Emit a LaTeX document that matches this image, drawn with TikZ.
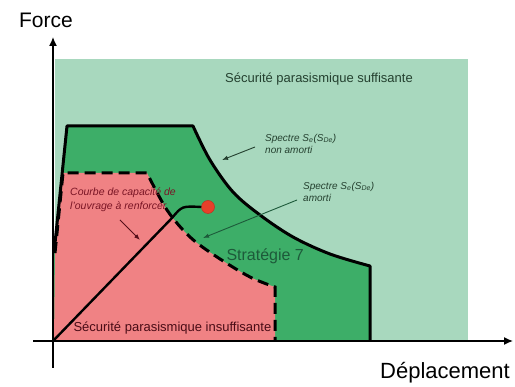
\documentclass[tikz,border=0pt]{standalone}
\usepackage{fontspec}
\setmainfont{Liberation Sans}
\usetikzlibrary{arrows.meta}
\definecolor{safegreen}{HTML}{A8D8BE}
\definecolor{stratgreen}{HTML}{3DAE68}
\definecolor{unsafered}{HTML}{F08284}
\definecolor{pointred}{HTML}{E8402A}
\definecolor{labelgreen}{HTML}{1D5A3A}
\definecolor{labeldark}{HTML}{24402F}
\definecolor{labelred}{HTML}{7A1525}

\begin{document}
\begin{tikzpicture}[x=1pt, y=-1pt,
		thickline/.style={line width=3pt, line join=round},
		dashline/.style={line width=3pt, dash pattern=on 11pt off 6pt},
		axis/.style={line width=1.4pt, -{Latex[length=9pt, width=8pt]}},
		pointer/.style={line width=0.9pt, -{Latex[length=6pt, width=4.5pt]}},
		label/.style={inner sep=0pt, align=left}]
			\useasboundingbox[fill=white] (0,0) rectangle (515,387);
			% zones
			\fill[safegreen] (55,59) rectangle (468,341);
			\fill[stratgreen] (54,341) -- (54,253) -- (67,126) -- (193,126) -- plot[smooth, tension=0.55] coordinates {(193,126) (210,160) (233,192) (260,215) (293,237) (330,254) (370,266)} -- (370,341) -- cycle;
			\fill[unsafered] (54,341) -- (55,253) -- (63,173) -- (147,173) -- plot[smooth, tension=0.55] coordinates {(147,173) (167,210) (190,237) (217,257) (250,277) (275,287)} -- (275,341) -- cycle;
			% spectres
			\draw[thickline] (54,253) -- (67,126) -- (193,126) -- plot[smooth, tension=0.55] coordinates {(193,126) (210,160) (233,192) (260,215) (293,237) (330,254) (370,266)} -- (370,341);
			\draw[dashline] (55,253) -- (63,173) -- (147,173) -- plot[smooth, tension=0.55] coordinates {(147,173) (167,210) (190,237) (217,257) (250,277) (275,287)} -- (275,341);
			% axes
			\coordinate (origin) at (53,341);
			\coordinate (xstart) at (33,341);
			\coordinate (xend) at (513,341);
			\coordinate (ystart) at (53,368);
			\coordinate (yend) at (53,37);
			\draw[axis] (xstart) -- (xend);
			\draw[axis] (ystart) -- (yend);
			\node[font=\fontsize{21}{24}\selectfont] (force) at (46,20) {Force};
			\node[anchor=base, font=\fontsize{22}{26}\selectfont] (deplacement) at (445,379) {Déplacement};
			% courbe de capacite
			\node[circle, fill=pointred, draw=pointred!80!black, line width=0.5pt, minimum size=13pt, inner sep=0pt] (point) at (208,207) {};
			\coordinate (knee) at (172,218);
			\draw[line width=2.4pt] (origin) -- (knee) .. controls (182,206) .. (point.west);
			% labels
			\node[anchor=base, font=\fontsize{13}{15}\selectfont, text=labeldark] (suffisante) at (319,83) {Sécurité parasismique suffisante};
			\node[anchor=base west, font=\fontsize{13}{15}\selectfont, text=labelred!60!black] (insuffisante) at (70,332) {Sécurité parasismique insuffisante};
			\node[anchor=base west, font=\fontsize{16}{18}\selectfont, text=labelgreen] (strategie) at (223,261) {Stratégie 7};
			\node[label, anchor=north west, font=\itshape\fontsize{10}{12}\selectfont, text=labeldark] (specnon) at (265,134) {Spectre S\textsubscript{e}(S\textsubscript{De})\\non amorti};
			\node[label, anchor=north west, font=\itshape\fontsize{10}{12}\selectfont, text=labeldark] (specamorti) at (303,182) {Spectre S\textsubscript{e}(S\textsubscript{De})\\amorti};
			\node[label, anchor=north west, font=\itshape\fontsize{10.5}{14}\selectfont, text=labelred] (courbe) at (70,188) {Courbe de capacité de\\l'ouvrage à renforcer};
			% fleches
			\coordinate (nonfrom) at (255,147);
			\coordinate (nonto) at (222,160);
			\coordinate (amofrom) at (297,200);
			\coordinate (amoto) at (203,238);
			\coordinate (courfrom) at (120,220);
			\coordinate (courto) at (140,240);
			\draw[pointer, labeldark] (nonfrom) -- (nonto);
			\draw[pointer, labelgreen] (amofrom) -- (amoto);
			\draw[pointer, labelred!70!black] (courfrom) -- (courto);
		\end{tikzpicture}
\end{document}
